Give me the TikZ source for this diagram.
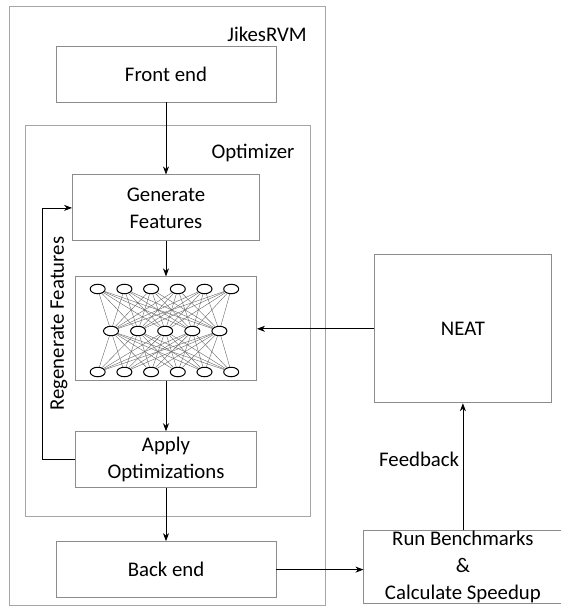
\documentclass[tikz,border=0pt]{standalone}
\usepackage{fontspec}
\setmainfont{Carlito}
\usetikzlibrary{arrows.meta,positioning,shapes.geometric}

\begin{document}
\begin{tikzpicture}[
  x=1pt, y=-1pt,
  font=\fontsize{20.8}{27}\selectfont,
  block/.style={rectangle, draw=black!45, line width=0.9pt, align=center,
    inner sep=0pt, minimum width=181pt, minimum height=56pt},
  frame/.style={rectangle, draw=black!35, line width=0.9pt, inner sep=0pt},
  neuron/.style={ellipse, draw, fill=white, minimum width=15pt,
    minimum height=9.5pt, inner sep=0pt, line width=1pt},
  wire/.style={draw=black!60, line width=0.4pt},
  arr/.style={-{Stealth[length=8pt,width=6pt,inset=2.5pt]}, line width=0.8pt}
]
\useasboundingbox (0,0) rectangle (560,607);

% Frames
\node[frame, minimum width=316pt, minimum height=599pt] (jikes) at (167,305.5) {};
\node[frame, minimum width=285pt, minimum height=391pt] (opt) at (167.5,320.5) {};
\node (jlabel) at (267,34) {JikesRVM};
\node (olabel) at (253,153) {Optimizer};

% Compiler pipeline
\node[block, minimum width=220pt] (front) at (166,74) {Front end};
\node[block, minimum width=187pt, minimum height=66pt, below=72pt of front] (gen) {Generate\\Features};
\node[frame, draw=black!45, minimum width=181pt, minimum height=104pt, below=35pt of gen] (nn) {};
\node[block, below=50pt of nn] (apply) {Apply\\Optimizations};
\node[block, minimum width=220pt, below=53pt of apply] (back) {Back end};

% NEAT side
\node[block, minimum width=177pt, minimum height=148pt, right=117pt of nn] (neat) {NEAT};
\node[block, minimum width=198pt, minimum height=73pt, below=127pt of neat] (run) {Run Benchmarks\\\&\\Calculate Speedup};

% Network inside the box
\foreach \i in {1,...,6} {
  \node[neuron] (a\i) at (71+26.7*\i,289) {};
  \node[neuron] (c\i) at (71+26.7*\i,372) {};
}
\foreach \j in {1,...,5}
  \node[neuron] (b\j) at (83.9+27.1*\j,331) {};
\foreach \i in {1,...,6}
  \foreach \j in {1,...,5} {
    \draw[wire] (a\i) -- (b\j);
    \draw[wire] (b\j) -- (c\i);
  }

% Arrows
\draw[arr] (front) -- (gen);
\draw[arr] (gen) -- (nn);
\draw[arr] (nn) -- (apply);
\draw[arr] (apply) -- (back);
\draw[arr] (neat) -- (nn);
\draw[arr] (back.east) -- (back.east -| run.west);
\draw[arr] (run) -- node[left, pos=0.56] (fbl) {Feedback} (neat);
\draw[arr] (apply.west) -- ++(-33pt,0) |- (gen.west);
\node[rotate=90] (regen) at (59,323.5) {Regenerate Features};

\end{tikzpicture}
\end{document}
